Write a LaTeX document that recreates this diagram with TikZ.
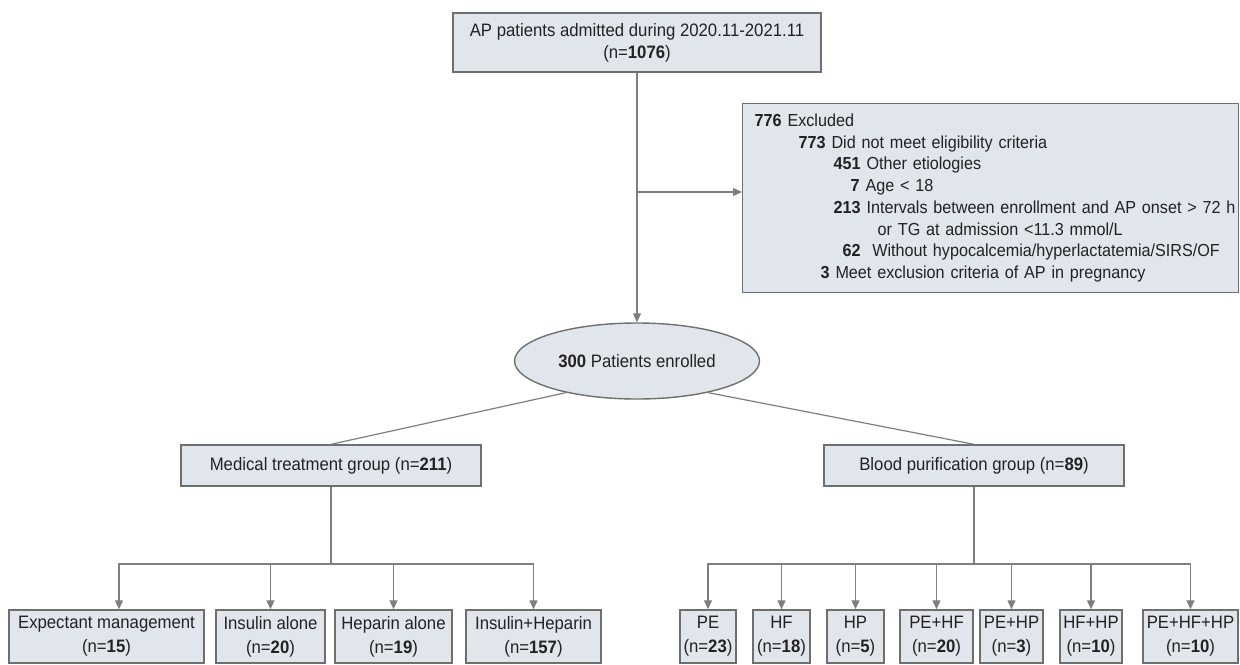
\documentclass[tikz,border=0pt]{standalone}
\usepackage{fontspec}
\setmainfont{Liberation Sans}[FakeStretch=0.93]
\usepackage{tikz}
\usetikzlibrary{shapes.geometric,arrows.meta,positioning,calc}
\definecolor{boxfill}{HTML}{E1E6ED}
\definecolor{boxline}{HTML}{6F6F6F}
\definecolor{linkgray}{HTML}{7F7F7F}
\definecolor{ink}{HTML}{222222}

\begin{document}
\begin{tikzpicture}[
    x=0.5pt, y=-0.5pt,
    box/.style={draw=boxline, fill=boxfill, line width=0.7pt, inner sep=0pt,
                align=center, text=ink, font=\fontsize{9}{11}\selectfont},
    armbox/.style={box, minimum height=26.5pt, font=\fontsize{9}{12}\selectfont},
    listbox/.style={box, align=left, text width=236pt, inner xsep=6pt,
                    minimum height=94.5pt, font=\fontsize{8.7}{10.85}\selectfont},
    enrol/.style={box, ellipse, minimum width=122.5pt, minimum height=38pt},
    conn/.style={draw=linkgray, line width=0.6pt},
    arrow/.style={conn, -{Triangle[length=4.5pt, width=4pt]}},
]
    \useasboundingbox (0,0) rectangle (1240,664);

    \node[box, minimum width=184pt, minimum height=29.5pt] (adm) at (637,42.5)
        {AP patients admitted during 2020.11-2021.11\\(n=\textbf{1076})};
    \node[listbox, anchor=north west] (excl) at (742,103) {%
        \begin{tabular}{@{}l@{}}
        \textbf{776} Excluded\\
        \hspace*{22pt}\textbf{773} Did not meet eligibility criteria\\
        \hspace*{39.5pt}\textbf{451} Other etiologies\\
        \hspace*{48pt}\textbf{7} Age < 18\\
        \hspace*{39.5pt}\textbf{213} Intervals between enrollment and AP onset > 72 h\\
        \hspace*{61.5pt}or TG at admission <11.3 mmol/L\\
        \hspace*{44pt}\textbf{62}\ \ Without hypocalcemia/hyperlactatemia/SIRS/OF\\
        \hspace*{33pt}\textbf{3} Meet exclusion criteria of AP in pregnancy
        \end{tabular}};
    \node[enrol] (enr) at (637,361) {\textbf{300} Patients enrolled};

    \node[box, minimum width=150pt, minimum height=20.5pt] (med) at (331,465.5)
        {Medical treatment group (n=\textbf{211})};
    \node[box, minimum width=150pt, minimum height=20.5pt] (blood) at (974,465.5)
        {Blood purification group (n=\textbf{89})};

    % medical arms
    \node[armbox, minimum width=97.5pt] (exp)    at (106.5,636.5) {Expectant management\\(n=\textbf{15})};
    \node[armbox, minimum width=54.5pt] (ins)    at (270.5,636.5) {Insulin alone\\(n=\textbf{20})};
    \node[armbox, minimum width=58.5pt] (hep)    at (393.5,636.5) {Heparin alone\\(n=\textbf{19})};
    \node[armbox, minimum width=67.5pt] (inshep) at (533.5,636.5) {Insulin+Heparin\\(n=\textbf{157})};

    % blood purification arms
    \node[armbox, minimum width=28pt]   (pe)     at (708,636.5)    {PE\\(n=\textbf{23})};
    \node[armbox, minimum width=28.5pt] (hf)     at (781.5,636.5)  {HF\\(n=\textbf{18})};
    \node[armbox, minimum width=28.5pt] (hp)     at (855.5,636.5)  {HP\\(n=\textbf{5})};
    \node[armbox, minimum width=36.5pt] (pehf)   at (936.5,636.5)  {PE+HF\\(n=\textbf{20})};
    \node[armbox, minimum width=31.5pt] (pehp)   at (1011.5,636.5) {PE+HP\\(n=\textbf{3})};
    \node[armbox, minimum width=31pt]   (hfhp)   at (1091,636.5)   {HF+HP\\(n=\textbf{10})};
    \node[armbox, minimum width=47.5pt] (pehfhp) at (1190.5,636.5) {PE+HF+HP\\(n=\textbf{10})};

    \coordinate (split)    at (637,192);
    \coordinate (medbus)   at (331,564);
    \coordinate (bloodbus) at (blood.south |- medbus);

    \draw[arrow] (adm)   -- (enr);
    \draw[arrow] (split) -- (split -| excl.west);
    \draw[conn]  (enr.204) -- (med.north);
    \draw[conn]  (enr.-24) -- (blood.north);

    \draw[conn]  (med.south) -- (medbus);
    \draw[arrow] (medbus) -| ([xshift=6.25pt]exp.north);
    \draw[arrow] (medbus) -| (ins.north);
    \draw[arrow] (medbus) -| (hep.north);
    \draw[arrow] (medbus) -| (inshep.north);

    \draw[conn]  (blood.south) -- (bloodbus);
    \draw[arrow] (bloodbus) -| (pe.north);
    \draw[arrow] (bloodbus) -| (hf.north);
    \draw[arrow] (bloodbus) -| (hp.north);
    \draw[arrow] (bloodbus) -| (pehf.north);
    \draw[arrow] (bloodbus) -| (pehp.north);
    \draw[arrow] (bloodbus) -| (hfhp.north);
    \draw[arrow] (bloodbus) -| (pehfhp.north);
\end{tikzpicture}
\end{document}
